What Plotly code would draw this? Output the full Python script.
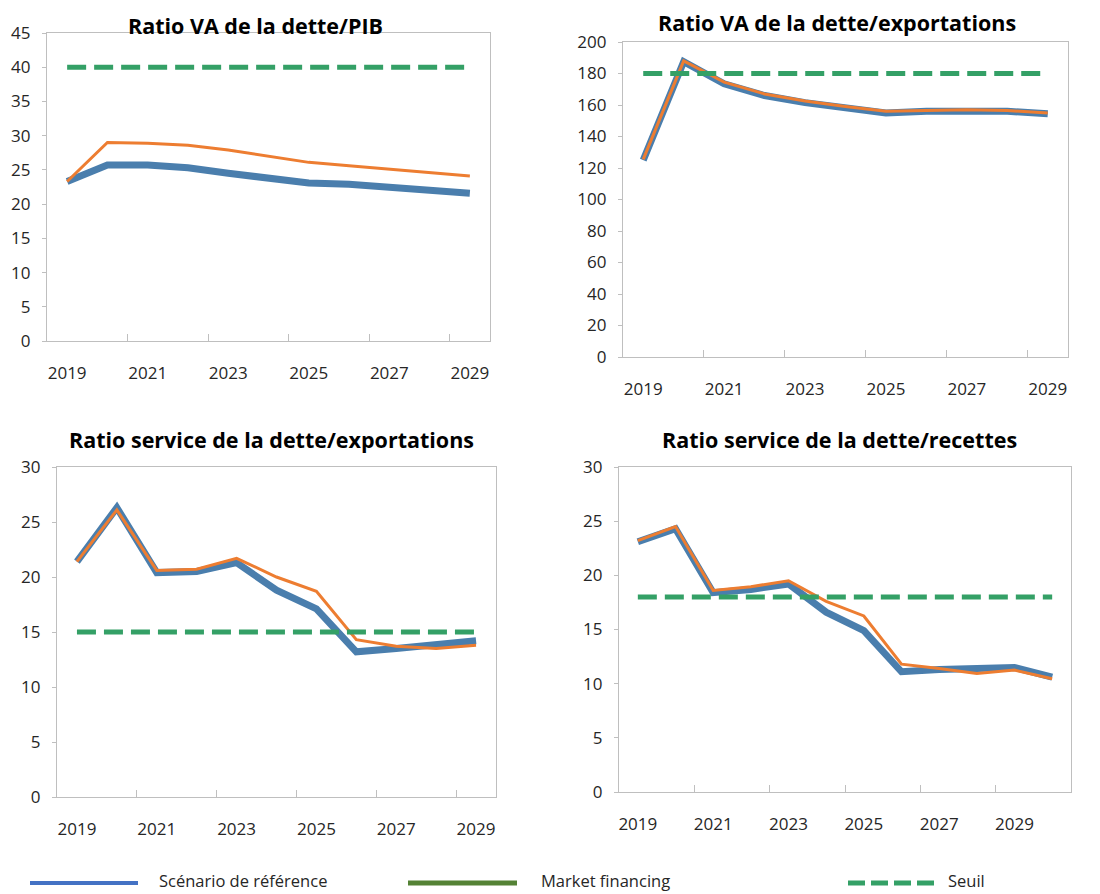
import plotly.graph_objects as go
from plotly.subplots import make_subplots

# Données
years = [2019, 2020, 2021, 2022, 2023, 2024, 2025, 2026, 2027, 2028, 2029]
years_rec = years + [2030]

va_pib_ref = [23.3, 25.7, 25.7, 25.3, 24.5, 23.7, 23.1, 22.9, 22.5, 22.1, 21.6]
va_pib_mkt = [23.3, 29.0, 28.9, 28.6, 27.9, 27.0, 26.1, 25.6, 25.1, 24.6, 24.1]
va_pib_seuil = 40

va_exp_ref = [125.0, 187.5, 173.5, 166.0, 161.5, 158.0, 155.0, 156.0, 156.5, 156.0, 154.5]
va_exp_mkt = [125.5, 188.0, 174.5, 167.0, 162.5, 159.0, 156.0, 156.5, 157.0, 156.5, 155.0]
va_exp_seuil = 180

sd_exp_ref = [21.4, 26.3, 20.4, 20.5, 21.3, 18.8, 17.1, 13.2, 13.5, 13.85, 14.2]
sd_exp_mkt = [21.4, 26.1, 20.6, 20.7, 21.7, 20.0, 18.7, 14.3, 13.7, 13.5, 13.8]
sd_exp_seuil = 15

sd_rec_ref = [23.1, 24.3, 18.4, 18.7, 19.2, 16.6, 14.9, 11.1, 11.3, 11.4, 11.5, 10.6]
sd_rec_mkt = [23.2, 24.5, 18.6, 18.95, 19.5, 17.6, 16.25, 11.8, 11.4, 10.95, 11.25, 10.45]
sd_rec_seuil = 18

titles = [
    "Ratio VA de la dette/PIB",
    "Ratio VA de la dette/exportations",
    "Ratio service de la dette/exportations",
    "Ratio service de la dette/recettes",
]
legend_labels = ["Scénario de référence", "Market financing", "Seuil"]

BLUE = "#4A7EAD"
ORANGE = "#ED7D31"
GREEN = "#34A066"
FRAME = "#BFBFBF"
TXT = "#262626"

# la page ajoute une marge de 8 px autour de la figure
OFF = 8
W, H = 1100 - OFF, 894 - OFF


def px_x(v):
    return (v - OFF) / W


def px_y(v):
    return 1 - (v - OFF) / H


panels = [
    (years, va_pib_ref, va_pib_mkt, va_pib_seuil, 1, 1),
    (years, va_exp_ref, va_exp_mkt, va_exp_seuil, 1, 2),
    (years, sd_exp_ref, sd_exp_mkt, sd_exp_seuil, 2, 1),
    (years_rec, sd_rec_ref, sd_rec_mkt, sd_rec_seuil, 2, 2),
]

fig = make_subplots(rows=2, cols=2)

for x, ref, mkt, seuil, r, c in panels:
    fig.add_trace(go.Scatter(x=x, y=ref, mode="lines",
                             line=dict(color=BLUE, width=7),
                             showlegend=False), row=r, col=c)
    fig.add_trace(go.Scatter(x=x, y=mkt, mode="lines",
                             line=dict(color=ORANGE, width=3),
                             showlegend=False), row=r, col=c)
    fig.add_trace(go.Scatter(x=x, y=[seuil] * len(x), mode="lines",
                             line=dict(color=GREEN, width=5, dash="19px,8px"),
                             showlegend=False), row=r, col=c)

# positions des zones de tracé dans la page (gauche, droite, haut, bas)
boxes = [
    (47, 490, 33, 341),
    (623, 1068, 42, 357),
    (57, 496, 467, 797),
    (619, 1071, 467, 792),
]
yranges = [(0, 45, 5), (0, 200, 20), (0, 30, 5), (0, 30, 5)]

for i, (box, yr) in enumerate(zip(boxes, yranges)):
    l, rr, t, b = box
    n = "" if i == 0 else str(i + 1)
    last = 2030 if i == 3 else 2029
    fig.layout["xaxis" + n].update(
        domain=[px_x(l), px_x(rr)], range=[2018.5, last + 0.5], automargin=False,
        tickvals=list(range(2019, 2030, 2)), ticks="",
        showline=True, mirror=True, linecolor=FRAME, linewidth=1.3,
        showgrid=False, zeroline=False, ticklabelstandoff=16,
        tickfont=dict(family="Open Sans", size=17, color=TXT),
        minor=dict(tickvals=[v + 0.5 for v in range(2020, last, 2)],
                   ticks="inside", ticklen=7, tickcolor=FRAME, tickwidth=1.3,
                   showgrid=False),
    )
    fig.layout["yaxis" + n].update(
        domain=[px_y(b), px_y(t)], range=[yr[0], yr[1]], dtick=yr[2],
        automargin=False,
        showline=True, mirror=True, linecolor=FRAME, linewidth=1.3,
        ticks="outside", ticklen=4, tickcolor=FRAME,
        showgrid=False, zeroline=False, ticklabelstandoff=8,
        tickfont=dict(family="Open Sans", size=17, color=TXT),
    )

# titres
title_pos = [(255, 25), (837, 23), (271, 439), (839, 439)]
annotations = []
for txt, (px, py) in zip(titles, title_pos):
    annotations.append(dict(text="<b>" + txt + "</b>", x=px_x(px), y=px_y(py),
                            xref="paper", yref="paper", showarrow=False,
                            xanchor="center", yanchor="middle",
                            font=dict(family="Open Sans", size=21.5, color="black")))

# légende dessinée à la main
ly = px_y(883)
shapes = [
    dict(type="line", xref="paper", yref="paper", x0=px_x(30), x1=px_x(138),
         y0=ly, y1=ly, line=dict(color="#4472C4", width=4)),
    dict(type="line", xref="paper", yref="paper", x0=px_x(408), x1=px_x(517),
         y0=ly, y1=ly, line=dict(color="#548235", width=5)),
    dict(type="line", xref="paper", yref="paper", x0=px_x(848), x1=px_x(934),
         y0=ly, y1=ly, line=dict(color=GREEN, width=5, dash="17px,6px")),
]
for txt, px in zip(legend_labels, [158, 540, 947]):
    annotations.append(dict(text=txt, x=px_x(px), y=px_y(880),
                            xref="paper", yref="paper", showarrow=False,
                            xanchor="left", yanchor="middle", borderpad=0,
                            font=dict(family="Open Sans", size=16.5, color=TXT)))

fig.update_layout(
    width=W, height=H,
    margin=dict(l=0, r=0, t=0, b=0),
    paper_bgcolor="white", plot_bgcolor="white",
    showlegend=False,
    annotations=annotations,
    shapes=shapes,
)

fig.write_html("out.html")
